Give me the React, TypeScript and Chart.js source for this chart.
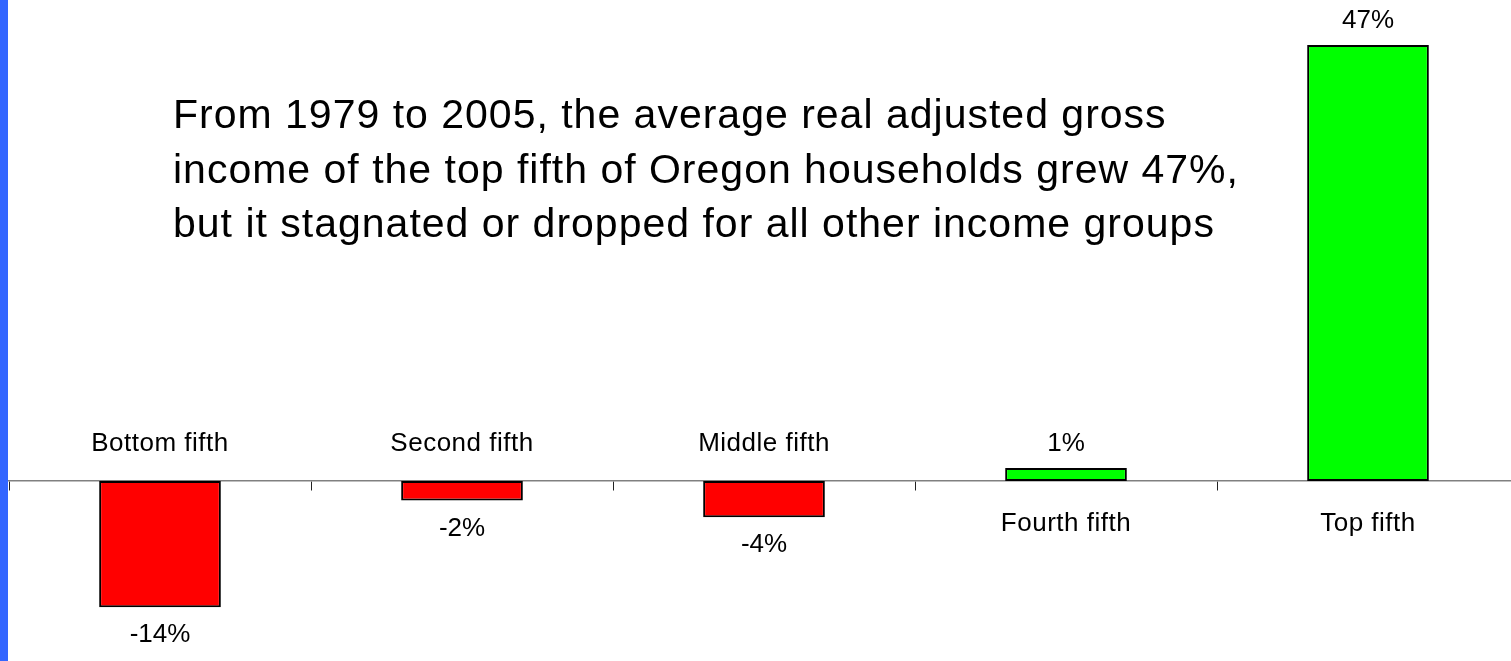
import React, { useEffect, useRef } from "react";
import { Chart, registerables } from "chart.js";

Chart.register(...registerables);

// ---- data ----
const categories = ["Bottom fifth", "Second fifth", "Middle fifth", "Fourth fifth", "Top fifth"];
const growthValues = [-13.6, -2.1, -3.9, 1.4, 47.0];
const valueLabels = ["-14%", "-2%", "-4%", "1%", "47%"];
const titleLines = [
  "From 1979 to 2005, the average real adjusted gross",
  "income of the top fifth of Oregon households grew 47%,",
  "but it stagnated or dropped for all other income groups",
];
const yMin = -19.4;
const yMax = 51.85;

const FONT = '"Liberation Sans", Arial, Helvetica, sans-serif';

const labelsPlugin = {
  id: "barLabels",
  afterDatasetsDraw(chart: any) {
    const ctx = chart.ctx as CanvasRenderingContext2D;
    const meta = chart.getDatasetMeta(0);
    const zeroY = chart.scales.y.getPixelForValue(0);
    ctx.save();
    ctx.fillStyle = "#000";
    ctx.textAlign = "center";
    ctx.textBaseline = "alphabetic";
    meta.data.forEach((bar: any, i: number) => {
      const v = growthValues[i];
      const x = bar.x;
      ctx.font = `26px ${FONT}`;
      try {
        (ctx as any).letterSpacing = "0.5px";
      } catch (e) {}
      if (v < 0) {
        ctx.fillText(categories[i], x, zeroY - 30);
      } else {
        ctx.fillText(categories[i], x, zeroY + 50);
      }
      try {
        (ctx as any).letterSpacing = "0px";
      } catch (e) {}
      if (v < 0) {
        ctx.fillText(valueLabels[i], x, bar.y + 35);
      } else {
        ctx.fillText(valueLabels[i], x, bar.y - 17);
      }
    });
    ctx.restore();
  },
  afterDraw(chart: any) {
    const ctx = chart.ctx as CanvasRenderingContext2D;
    ctx.save();
    ctx.fillStyle = "#000";
    ctx.textAlign = "left";
    ctx.textBaseline = "alphabetic";
    ctx.font = `41px ${FONT}`;
    try {
      (ctx as any).letterSpacing = "1px";
    } catch (e) {}
    titleLines.forEach((line, i) => {
      ctx.fillText(line, 173, 128.3 + i * 54.2);
    });
    ctx.restore();
  },
};

export default function App() {
  const canvasRef = useRef<HTMLCanvasElement | null>(null);

  useEffect(() => {
    if (!canvasRef.current) return;
    const chart = new Chart(canvasRef.current, {
      type: "bar",
      data: {
        labels: categories,
        datasets: [
          {
            data: growthValues,
            backgroundColor: growthValues.map((v) => (v < 0 ? "#FF0000" : "#00FF00")),
            borderColor: "#000000",
            borderWidth: 2,
            borderSkipped: false,
            barPercentage: 0.403,
            categoryPercentage: 1,
          },
        ],
      },
      options: {
        animation: false,
        responsive: true,
        maintainAspectRatio: false,
        layout: { padding: { left: 9, right: 11, top: 0, bottom: 0 } },
        plugins: {
          legend: { display: false },
          title: { display: false },
          tooltip: { enabled: false },
        },
        scales: {
          x: {
            position: { y: 0 } as any,
            offset: true,
            grid: {
              display: true,
              offset: true,
              drawOnChartArea: false,
              drawTicks: true,
              tickLength: 9,
              color: "#222222",
              lineWidth: 1,
            },
            border: { display: true, color: "#808080", width: 1.5 },
            ticks: { display: false },
          },
          y: {
            display: false,
            min: yMin,
            max: yMax,
          },
        },
      },
      plugins: [labelsPlugin],
    });
    return () => chart.destroy();
  }, []);

  return (
    <div
      style={{
        position: "fixed",
        left: 0,
        top: 0,
        width: 1511,
        height: 661,
        overflow: "hidden",
        background: "#ffffff",
      }}
    >
      <div style={{ position: "absolute", left: 0, top: 0, width: 1530, height: 661 }}>
        <canvas ref={canvasRef} />
      </div>
      <div
        style={{
          position: "absolute",
          left: 0,
          top: 0,
          width: 8,
          height: 661,
          background: "#3366FF",
        }}
      />
    </div>
  );
}
